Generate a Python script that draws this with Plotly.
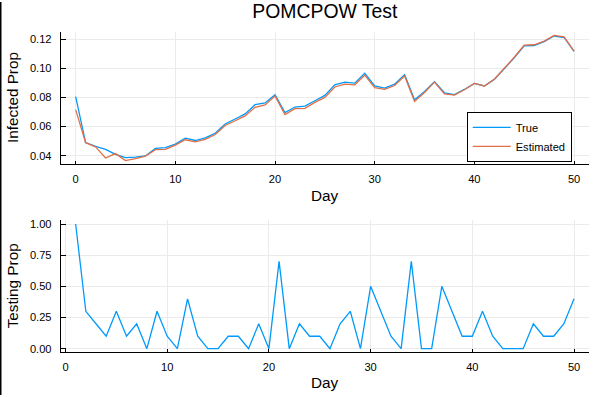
import plotly.graph_objects as go

# ---------------- data ----------------
days_top = list(range(0, 51))
infected_true = [0.0805, 0.0490, 0.0463, 0.0443, 0.0409, 0.0386, 0.0390, 0.0398, 0.0450, 0.0455,
                 0.0479, 0.0520, 0.0504, 0.0522, 0.0554, 0.0618, 0.0652, 0.0687, 0.0750, 0.0762,
                 0.0818, 0.0696, 0.0734, 0.0741, 0.0777, 0.0814, 0.0887, 0.0905, 0.0898, 0.0966,
                 0.0880, 0.0864, 0.0891, 0.0957, 0.0784, 0.0841, 0.0909, 0.0832, 0.0820, 0.0855,
                 0.0897, 0.0879, 0.0924, 0.0995, 0.1072, 0.1155, 0.1157, 0.1183, 0.1222, 0.1212,
                 0.1117]
infected_est = [0.0716, 0.0489, 0.0460, 0.0384, 0.0414, 0.0366, 0.0380, 0.0396, 0.0441, 0.0443,
                0.0472, 0.0509, 0.0495, 0.0512, 0.0545, 0.0607, 0.0640, 0.0673, 0.0732, 0.0748,
                0.0810, 0.0682, 0.0723, 0.0725, 0.0766, 0.0800, 0.0872, 0.0891, 0.0887, 0.0953,
                0.0868, 0.0855, 0.0882, 0.0948, 0.0773, 0.0834, 0.0905, 0.0825, 0.0816, 0.0853,
                0.0896, 0.0879, 0.0925, 0.0998, 0.1076, 0.1160, 0.1162, 0.1187, 0.1226, 0.1216,
                0.1119]

days_bottom = list(range(1, 51))
testing_prop = [1.0, 0.3, 0.2, 0.1, 0.3, 0.1, 0.2, 0.0, 0.3, 0.1,
                0.0, 0.4, 0.1, 0.0, 0.0, 0.1, 0.1, 0.0, 0.2, 0.0,
                0.7, 0.0, 0.2, 0.1, 0.1, 0.0, 0.2, 0.3, 0.0, 0.5,
                0.3, 0.1, 0.0, 0.7, 0.0, 0.0, 0.5, 0.3, 0.1, 0.1,
                0.3, 0.1, 0.0, 0.0, 0.0, 0.2, 0.1, 0.1, 0.2, 0.4]

x_ticks = [0, 10, 20, 30, 40, 50]
top_y_ticks = [0.04, 0.06, 0.08, 0.10, 0.12]
bottom_y_ticks = [0.0, 0.25, 0.5, 0.75, 1.0]

title_text = "POMCPOW Test"
series_names = ["True", "Estimated"]
x_title = "Day"
top_y_title = "Infected Prop"
bottom_y_title = "Testing Prop"

# ---------------- styling ----------------
FONT = "Liberation Sans, Arial, Helvetica, sans-serif"
BLUE = "#009AFA"
RED = "#E36F47"
GRID = "#ebebeb"
W, H = 599, 397

x_dom = [60.7 / W, 589 / W]
top_dom = [(H - 164) / H, (H - 30) / H]
bot_dom = [(H - 354) / H, (H - 220.5) / H]

fig = go.Figure()
fig.add_trace(go.Scatter(x=days_top, y=infected_true, mode="lines", name=series_names[0],
                         line=dict(color=BLUE, width=1.3), xaxis="x", yaxis="y"))
fig.add_trace(go.Scatter(x=days_top, y=infected_est, mode="lines", name=series_names[1],
                         line=dict(color=RED, width=1.3), xaxis="x", yaxis="y"))
fig.add_trace(go.Scatter(x=days_bottom, y=testing_prop, mode="lines", name="Testing",
                         showlegend=False,
                         line=dict(color=BLUE, width=1.3), xaxis="x2", yaxis="y2"))

def pad(lo, hi, f=0.03):
    d = (hi - lo) * f
    return [lo - d, hi + d]

top_ylo = min(min(infected_true), min(infected_est))
top_yhi = max(max(infected_true), max(infected_est))

axis_common = dict(showline=True, linecolor="black", linewidth=1, mirror=False,
                   showgrid=True, gridcolor=GRID, gridwidth=1, zeroline=False,
                   ticks="inside", tickcolor="black", tickwidth=1,
                   tickfont=dict(family=FONT, size=11.1, color="black"))

fig.update_layout(
    width=W, height=H,
    margin=dict(l=0, r=0, t=0, b=0),
    paper_bgcolor="white", plot_bgcolor="white",
    font=dict(family=FONT, color="black"),
    title=dict(text=title_text, x=(x_dom[0] + x_dom[1]) / 2, xanchor="center",
               y=1 - 11 / H, yanchor="middle", xref="paper", yref="container",
               font=dict(family=FONT, size=19.4, color="black")),
    xaxis=dict(domain=x_dom, anchor="y", range=pad(min(days_top), max(days_top)),
               tickvals=x_ticks, ticklen=3, ticklabelstandoff=4, **axis_common),
    yaxis=dict(domain=top_dom, anchor="x", range=pad(top_ylo, top_yhi),
               tickvals=top_y_ticks, tickformat=".2f", ticklen=5, ticklabelstandoff=6,
               **axis_common),
    xaxis2=dict(domain=x_dom, anchor="y2", range=pad(min(days_bottom), max(days_bottom)),
                tickvals=x_ticks, ticklen=3, ticklabelstandoff=4, **axis_common),
    yaxis2=dict(domain=bot_dom, anchor="x2", range=pad(min(testing_prop), max(testing_prop)),
                tickvals=bottom_y_ticks, tickformat=".2f", ticklen=5, ticklabelstandoff=6,
                **axis_common),
    legend=dict(x=571.7 / W, y=(H - 161.5) / H, xanchor="right", yanchor="bottom",
                bgcolor="white", bordercolor="black", borderwidth=1,
                font=dict(family=FONT, size=11.1, color="black"),
                itemwidth=38, tracegroupgap=0),
    showlegend=True,
)

ann = dict(xref="paper", yref="paper", showarrow=False,
           font=dict(family=FONT, size=15.3, color="black"))
xc = (x_dom[0] + x_dom[1]) / 2
fig.add_annotation(text=x_title, x=xc, y=(H - 195) / H, xanchor="center", yanchor="middle", **ann)
fig.add_annotation(text=x_title, x=xc, y=(H - 384) / H, xanchor="center", yanchor="middle", **ann)
fig.add_annotation(text=top_y_title, x=12 / W, y=(top_dom[0] + top_dom[1]) / 2, textangle=-90,
                   xanchor="center", yanchor="middle", **ann)
fig.add_annotation(text=bottom_y_title, x=12 / W, y=(bot_dom[0] + bot_dom[1]) / 2, textangle=-90,
                   xanchor="center", yanchor="middle", **ann)

# dark left border seen in the reference image
fig.add_shape(type="rect", xref="paper", yref="paper", x0=0, x1=1.5 / W, y0=0, y1=1,
              fillcolor="black", line=dict(width=0), layer="above")

# remove the browser's default 8px body margin so the figure fills the window
fig.write_html("out.html",
               config={"displayModeBar": False},
               post_script="document.body.style.margin='0';document.body.style.overflow='hidden';")
